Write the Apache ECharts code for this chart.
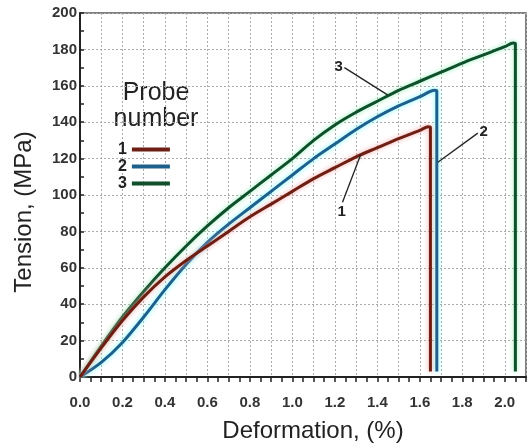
<!DOCTYPE html>
<html>
<head>
<meta charset="utf-8">
<script src="https://cdn.jsdelivr.net/npm/echarts@6/dist/echarts.min.js"></script>
<style>
  html, body { margin: 0; padding: 0; background: #fff; }
  #chart { width: 529px; height: 448px; }
</style>
</head>
<body>
<div id="chart"></div>
<script>
// deformation (%) / tension (MPa)
const probe1 = [[0, 0], [0.1, 16], [0.2, 31], [0.3, 44], [0.4, 55], [0.5, 64], [0.6, 72], [0.7, 80],
  [0.8, 88], [0.9, 95], [1.0, 102], [1.1, 109], [1.2, 115], [1.3, 121], [1.4, 126], [1.5, 131],
  [1.6, 135.5], [1.64, 137.5], [1.65, 137], [1.65, 3]];
const probe2 = [[0, 0], [0.1, 8], [0.2, 19], [0.3, 33], [0.4, 48], [0.5, 62], [0.6, 74], [0.7, 84],
  [0.8, 93], [0.9, 102], [1.0, 111], [1.1, 120], [1.2, 128], [1.3, 136], [1.4, 143], [1.5, 149],
  [1.6, 154], [1.67, 157.5], [1.68, 157], [1.68, 3]];
const probe3 = [[0, 0], [0.1, 17], [0.2, 33], [0.3, 47], [0.4, 60], [0.5, 72], [0.6, 83], [0.7, 93],
  [0.8, 102], [0.9, 111], [1.0, 120], [1.1, 130], [1.2, 138.5], [1.3, 145.5], [1.4, 151.5], [1.5, 157.5],
  [1.6, 162.5], [1.7, 167.5], [1.8, 172.5], [1.9, 177], [2.0, 181.5], [2.04, 183.5], [2.05, 183], [2.05, 3]];

const xLabels = ['0.0', '0.2', '0.4', '0.6', '0.8', '1.0', '1.2', '1.4', '1.6', '1.8', '2.0'];

// leader lines for the curve numbers: [label, start, end]
const callouts = [
  ['1', [1.236, 96], [1.321, 122]],
  ['2', [1.873, 134], [1.685, 118]],
  ['3', [1.245, 170], [1.448, 155]]
];

const sans = "'Liberation Sans', Arial, sans-serif";

const colors = ['#6e1f14', '#1f5f8b', '#0f4f2b'];
const halos = ['#f4a0a0', '#70ffff', '#90f0b8'];

let chart = echarts.init(document.getElementById('chart'));

const makeSeries = (name, data, i) => {
  const c = callouts[i];
  return {
    name: name,
    type: 'line',
    data: data,
    smooth: 0.3,
    showSymbol: false,
    color: colors[i],
    lineStyle: { width: 3, color: colors[i], shadowColor: halos[i], shadowBlur: 5 },
    z: 3 - i,
    markLine: {
      silent: true,
      symbol: 'none',
      lineStyle: { color: '#222', width: 1.3, type: 'solid', shadowBlur: 0 },
      label: {
        show: true,
        position: 'start',
        formatter: c[0],
        color: '#222',
        fontFamily: sans,
        fontWeight: 'bold',
        fontSize: 15,
        distance: 2
      },
      data: [[{ coord: c[1] }, { coord: c[2] }]]
    }
  };
};

const option = {
  animation: false,
  backgroundColor: '#fff',
  grid: {
    left: 80,
    right: 3,
    top: 13,
    bottom: 71,
    show: true,
    borderColor: '#555',
    borderWidth: 1.5
  },
  legend: {
    data: ['1', '2', '3'],
    orient: 'vertical',
    left: 113,
    top: 136,
    align: 'right',
    icon: 'rect',
    itemWidth: 38,
    itemHeight: 4,
    itemGap: 0,
    textStyle: { fontFamily: sans, fontSize: 16, fontWeight: 'bold', color: '#222', lineHeight: 17 }
  },
  graphic: [
    {
      type: 'text',
      x: 156,
      y: 80,
      style: {
        text: 'Probe\nnumber',
        font: '25px ' + sans,
        fill: '#222',
        align: 'center',
        lineHeight: 26
      }
    }
  ],
  xAxis: {
    type: 'value',
    min: 0,
    max: 2.1,
    interval: 0.1,
    name: 'Deformation, (%)',
    nameLocation: 'middle',
    nameGap: 42,
    nameTextStyle: { fontFamily: sans, fontSize: 24, color: '#222', padding: [0, 0, 0, 20] },
    axisLine: { lineStyle: { color: '#222', width: 2 } },
    axisTick: { show: true, length: 5, lineStyle: { color: '#222', width: 1.5 } },
    minorTick: { show: true, splitNumber: 2, length: 5, lineStyle: { color: '#222', width: 1.5 } },
    axisLabel: {
      margin: 18,
      fontFamily: sans,
      fontWeight: 'bold',
      fontSize: 15,
      color: '#333',
      formatter: (v) => {
        const s = v.toFixed(1);
        return xLabels.indexOf(s) >= 0 ? s : '';
      }
    },
    splitLine: { show: true, lineStyle: { color: '#aaa', type: [2, 2], width: 1 } }
  },
  yAxis: {
    type: 'value',
    min: 0,
    max: 200,
    interval: 20,
    name: 'Tension, (MPa)',
    nameLocation: 'middle',
    nameGap: 44,
    nameTextStyle: { fontFamily: sans, fontSize: 24, color: '#222', padding: [0, 34, 0, 0] },
    axisLine: { lineStyle: { color: '#222', width: 2 } },
    axisTick: { show: true, inside: true, length: 4, lineStyle: { color: '#222', width: 1.5 } },
    minorTick: { show: true, splitNumber: 2, length: 4, lineStyle: { color: '#222', width: 1.5 } },
    axisLabel: {
      margin: 3,
      fontFamily: sans,
      fontWeight: 'bold',
      fontSize: 15,
      color: '#333'
    },
    splitLine: { show: true, lineStyle: { color: '#aaa', type: [2, 2], width: 1 } }
  },
  series: [
    makeSeries('1', probe1, 0),
    makeSeries('2', probe2, 1),
    makeSeries('3', probe3, 2)
  ]
};

chart.setOption(option);
</script>
</body>
</html>
